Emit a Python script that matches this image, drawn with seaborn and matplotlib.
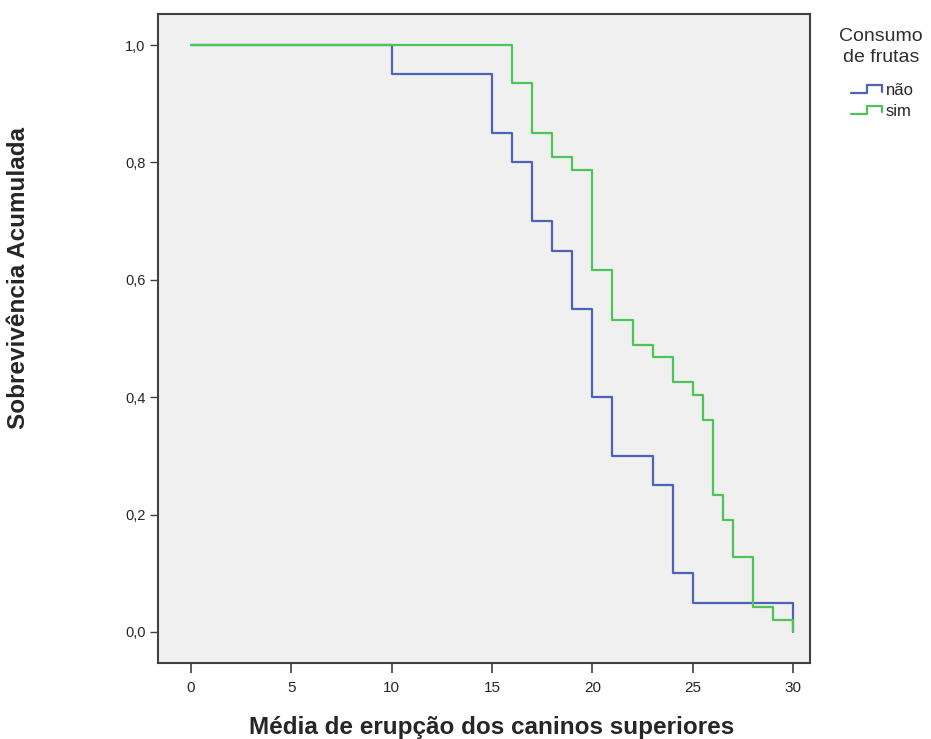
import numpy as np
import pandas as pd
import matplotlib
matplotlib.use('Agg')
import matplotlib.pyplot as plt
from matplotlib.legend_handler import HandlerBase
import seaborn as sns

# Kaplan-Meier steps
tempo_nao = [0, 10, 15, 16, 17, 18, 19, 20, 21, 23, 24, 25, 30]
surv_nao = [1.0, 0.95, 0.85, 0.80, 0.70, 0.65, 0.55, 0.40, 0.30, 0.25, 0.10, 0.05, 0.0]

tempo_sim = [0, 16, 17, 18, 19, 20, 21, 22, 23, 24, 25, 25.5, 26, 26.5, 27, 28, 29, 30]
surv_sim = [1.0, 0.936, 0.851, 0.809, 0.787, 0.617, 0.532, 0.489, 0.468, 0.426,
            0.404, 0.362, 0.234, 0.191, 0.128, 0.043, 0.021, 0.0]

grupos = ['não', 'sim']
cores = {'não': '#4E62B6', 'sim': '#4CC456'}

df = pd.concat([
    pd.DataFrame({'tempo': tempo_nao, 'surv': surv_nao, 'grupo': 'não'}),
    pd.DataFrame({'tempo': tempo_sim, 'surv': surv_sim, 'grupo': 'sim'}),
])


class StepHandler(HandlerBase):
    # little step glyph like the SPSS legend
    def create_artists(self, legend, orig_handle, xdescent, ydescent,
                       width, height, fontsize, trans):
        w, h = width, height
        xs = np.array([0, 0.5, 0.5, 0.95, 0.95]) * w - xdescent
        ys = np.array([0.15, 0.15, 0.85, 0.85, 0.3]) * h - ydescent
        line = plt.Line2D(xs, ys, color=orig_handle.get_color(),
                          lw=orig_handle.get_linewidth(), transform=trans)
        return [line]


sns.set_style('ticks', {'axes.facecolor': '#F0F0F0', 'axes.edgecolor': '#404040'})
plt.rcParams['font.family'] = ['Liberation Sans', 'DejaVu Sans']

fig = plt.figure(figsize=(9.31, 7.39), dpi=100)
ax = fig.add_axes([0.1697, 0.1028, 0.7003, 0.8782])

sns.lineplot(data=df, x='tempo', y='surv', hue='grupo', hue_order=grupos,
             palette=cores, drawstyle='steps-post', linewidth=1.6,
             estimator=None, sort=False, ax=ax, legend=False)

ax.set_xlim(-1.64, 30.84)
ax.set_ylim(-0.053, 1.053)
ax.set_xticks([0, 5, 10, 15, 20, 25, 30])
ax.set_yticks([0.0, 0.2, 0.4, 0.6, 0.8, 1.0])
ax.set_yticklabels(['0,0', '0,2', '0,4', '0,6', '0,8', '1,0'])
ax.tick_params(axis='x', labelsize=11, length=7, width=1.2, color='#404040', pad=6)
ax.tick_params(axis='y', labelsize=10.5, length=6, width=1.0, color='#404040', pad=3)
for s in ax.spines.values():
    s.set_linewidth(1.5)

ax.set_xlabel('Média de erupção dos caninos superiores', fontsize=17.5, fontweight='bold')
ax.xaxis.set_label_coords(0.512, -0.082)
ax.set_ylabel('Sobrevivência Acumulada', fontsize=17.5, fontweight='bold')
ax.yaxis.set_label_coords(-0.196, 0.593)

# legend title as separate text so the gap to the entries matches
fig.text(0.946, 0.962, 'Consumo\nde frutas', ha='center', va='top',
         fontsize=14, color='#303030', multialignment='center', linespacing=1.3)
handles = [plt.Line2D([], [], color=cores[g], lw=1.6) for g in grupos]
leg = fig.legend(handles, grupos, loc='upper left',
                 bbox_to_anchor=(0.903, 0.901), frameon=False, fontsize=12,
                 handlelength=2.0, handletextpad=0.1,
                 labelspacing=0.35, borderpad=0.1,
                 handler_map={plt.Line2D: StepHandler()})

fig.savefig('out.png', dpi=100)
